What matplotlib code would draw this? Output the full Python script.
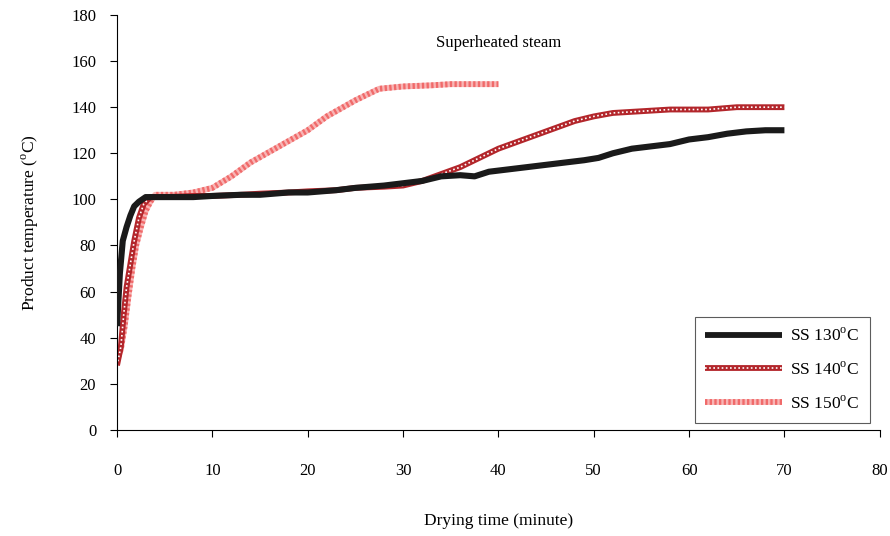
import numpy as np
import matplotlib.pyplot as plt
from matplotlib.lines import Line2D

plt.rcParams['font.family'] = ['Liberation Serif', 'DejaVu Serif']
plt.rcParams['mathtext.fontset'] = 'custom'
plt.rcParams['mathtext.rm'] = 'Liberation Serif'

# drying time (minute) and product temperature (oC)
t130 = [0, 0.3, 0.6, 1.0, 1.4, 1.8, 2.3, 3.0, 5, 8, 10, 13, 15, 18, 20, 23, 25, 28, 30, 32, 34, 36, 37.5, 39, 41, 43, 45, 47, 49, 50.5, 52, 54, 56, 58, 60, 62, 64, 66, 68, 70]
T130 = [45, 68, 82, 88, 93, 97, 99, 101, 101, 101, 101.5, 102, 102, 103, 103, 104, 105, 106, 107, 108, 110, 110.5, 110, 112, 113, 114, 115, 116, 117, 118, 120, 122, 123, 124, 126, 127, 128.5, 129.5, 130, 130]

t140 = [0, 0.4, 0.7, 1.0, 1.4, 1.8, 2.3, 2.8, 3.5, 5, 8, 10, 13, 15, 18, 20, 23, 25, 28, 30, 32, 34, 36, 38, 40, 42, 44, 46, 48, 50, 52, 54, 56, 58, 60, 62, 65, 67, 70]
T140 = [28, 36, 50, 62, 72, 82, 92, 98, 101, 101, 101.5, 101.5, 102, 102.5, 103, 103.5, 104, 105, 105.5, 106, 108, 111, 114, 118, 122, 125, 128, 131, 134, 136, 137.5, 138, 138.5, 139, 139, 139, 140, 140, 140]

t150 = [0, 0.4, 0.8, 1.2, 1.6, 2.0, 2.5, 3.0, 3.5, 4.0, 6, 8, 10, 12, 14, 17, 20, 22, 25, 27.5, 30, 33, 35, 40]
T150 = [30, 35, 45, 58, 70, 80, 88, 95, 99, 102, 102, 103, 105, 110, 116, 123, 130, 136, 143, 148, 149, 149.5, 150, 150]

dark_red = '#b3262b'
light_red = '#f06a6a'

fig = plt.figure(figsize=(8.9, 5.36), dpi=100)
ax = fig.add_axes([0.1315, 0.198, 0.857, 0.774])

ax.plot(t130, T130, color='#1a1a1a', lw=4.4, solid_capstyle='butt', zorder=3)
ax.plot(t140, T140, color=dark_red, lw=4.2, solid_capstyle='butt', zorder=2)
ax.plot(t140, T140, color='white', lw=1.2, ls=(0, (1, 1.5)), zorder=2)
ax.plot(t150, T150, color='#f8b5b5', lw=4.2, solid_capstyle='butt', zorder=1)
ax.plot(t150, T150, color=light_red, lw=4.2, ls=(0, (0.4, 0.4)), zorder=1)

ax.set_xlim(0, 80)
ax.set_ylim(0, 180)
ax.set_xticks(range(0, 81, 10))
ax.set_yticks(range(0, 181, 20))
ax.spines['top'].set_visible(False)
ax.spines['right'].set_visible(False)
ax.tick_params(axis='x', direction='out', length=5, pad=19, labelsize=12)
ax.tick_params(axis='y', direction='out', length=5, pad=10, labelsize=12)

ax.set_xlabel('Drying time (minute)', fontsize=12.5, labelpad=24)
ax.set_ylabel(r'Product temperature ($^{\mathrm{o}}$C)', fontsize=12.5, labelpad=22)
ax.text(0.5, 0.932, 'Superheated steam', transform=ax.transAxes,
        ha='center', va='center', fontsize=12)

h130 = Line2D([], [], color='#1a1a1a', lw=4.2, solid_capstyle='butt')
h140a = Line2D([], [], color=dark_red, lw=4.2, solid_capstyle='butt')
h140b = Line2D([], [], color='white', lw=1.2, ls=(0, (1, 1.5)))
h150a = Line2D([], [], color='#f8b5b5', lw=4.2, solid_capstyle='butt')
h150b = Line2D([], [], color=light_red, lw=4.2, ls=(0, (0.4, 0.4)))
leg = ax.legend([h130, (h140a, h140b), (h150a, h150b)],
                [r'SS 130$^{\mathrm{o}}$C', r'SS 140$^{\mathrm{o}}$C', r'SS 150$^{\mathrm{o}}$C'],
                loc='lower right', bbox_to_anchor=(0.987, 0.017), borderaxespad=0,
                fontsize=12.5, frameon=True, fancybox=False, edgecolor='#333333',
                handlelength=4.4, handletextpad=0.5, labelspacing=0.95, borderpad=0.6)
leg.get_frame().set_linewidth(0.8)

fig.savefig('out.png', dpi=100)
